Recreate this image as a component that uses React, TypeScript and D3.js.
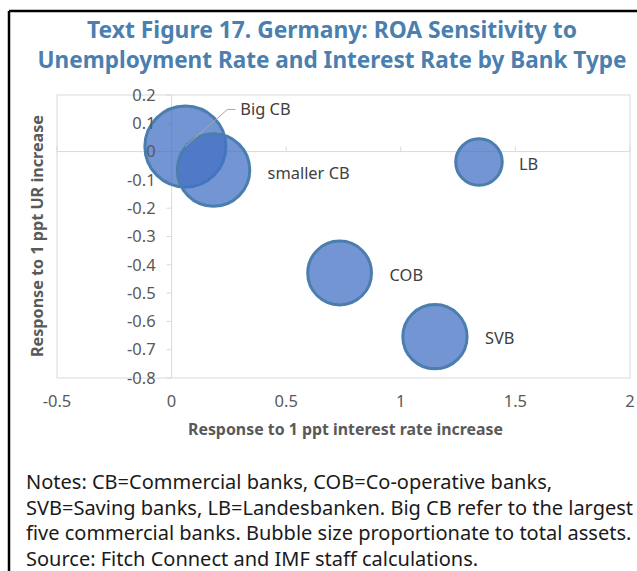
import React from "react";
import * as d3 from "d3";

const banks = ["Big CB", "smaller CB", "LB", "COB", "SVB"];
const rateResponse = [0.06, 0.183, 1.341, 0.733, 1.149];
const urResponse = [0.018, -0.065, -0.037, -0.429, -0.654];
const totalAssets = [1000, 800, 330, 620, 630];
const xTicks = [-0.5, 0, 0.5, 1, 1.5, 2];
const yTicks = [0.2, 0.1, 0, -0.1, -0.2, -0.3, -0.4, -0.5, -0.6, -0.7, -0.8];
const titleLines = [
  "Text Figure 17. Germany: ROA Sensitivity to",
  "Unemployment Rate and Interest Rate by Bank Type",
];
const noteLines = [
  "Notes: CB=Commercial banks, COB=Co-operative banks,",
  "SVB=Saving banks, LB=Landesbanken. Big CB refer to the largest",
  "five commercial banks. Bubble size proportionate to total assets.",
  "Source: Fitch Connect and IMF staff calculations.",
];

const W = 637;
const H = 571;
const FONT = "'Noto Sans', 'Open Sans', sans-serif";

export default function App() {
  const x = d3.scaleLinear().domain([-0.5, 2]).range([57, 630]);
  const y = d3.scaleLinear().domain([-0.8, 0.2]).range([378, 95]);
  const r = d3.scaleSqrt().domain([0, d3.max(totalAssets) as number]).range([0, 40.5]);
  const fmt = (v: number) => (v === 0 ? "0" : String(v));
  const x0 = x(0);
  const y0 = y(0);
  const labelDx = [0, 0, 40, 50, 50];
  const points = banks.map((b, i) => ({
    name: b,
    cx: x(rateResponse[i]),
    cy: y(urResponse[i]),
    r: r(totalAssets[i]),
  }));
  const big = points[0];
  const titleWidths = [490, 589];

  return (
    <svg
      width={W}
      height={H}
      style={{ position: "absolute", left: 0, top: 0, background: "#fff" }}
      fontFamily={FONT}
    >
      <rect x={0} y={0} width={W} height={H} fill="#fff" />
      {/* outer frame */}
      <line x1={9} y1={11} x2={W} y2={11} stroke="#000" strokeWidth={2.5} />
      <line x1={9} y1={11} x2={9} y2={H} stroke="#000" strokeWidth={2.5} />

      {titleLines.map((t, i) => (
        <text
          key={i}
          x={332}
          y={38 + i * 30.3}
          textAnchor="middle"
          fontSize={22.5}
          fontWeight="bold"
          fill="#4a7fb0"
          textLength={titleWidths[i]}
          lengthAdjust="spacingAndGlyphs"
        >
          {t}
        </text>
      ))}

      {/* plot area */}
      <rect
        x={x(-0.5)}
        y={y(0.2)}
        width={x(2) - x(-0.5)}
        height={y(-0.8) - y(0.2)}
        fill="none"
        stroke="#d9d9d9"
        strokeWidth={1}
      />
      {/* axes lines */}
      <line x1={x(-0.5)} x2={x(2)} y1={y0} y2={y0} stroke="#d9d9d9" />
      <line x1={x0} x2={x0} y1={y(0.2)} y2={y(-0.8)} stroke="#d9d9d9" />
      {xTicks.map((t) => (
        <line key={"xt" + t} x1={x(t)} x2={x(t)} y1={y0} y2={y0 - 5} stroke="#d9d9d9" />
      ))}
      {yTicks.map((t) => (
        <line key={"yt" + t} x1={x0 - 5} x2={x0} y1={y(t)} y2={y(t)} stroke="#d9d9d9" />
      ))}

      {/* bubbles */}
      {points.map((p) => (
        <circle
          key={p.name}
          cx={p.cx}
          cy={p.cy}
          r={p.r}
          fill="#4472c4"
          fillOpacity={0.75}
          stroke="#4a7eae"
          strokeWidth={3}
        />
      ))}

      {/* tick labels */}
      {yTicks.map((t) => (
        <text
          key={"yl" + t}
          x={x0 - 16}
          y={y(t)}
          dy="0.35em"
          textAnchor="end"
          fontSize={16.5}
          fill="#595959"
        >
          {fmt(t)}
        </text>
      ))}
      {xTicks.map((t) => (
        <text
          key={"xl" + t}
          x={x(t)}
          y={401}
          dy="0.35em"
          textAnchor="middle"
          fontSize={16.5}
          fill="#595959"
        >
          {fmt(t)}
        </text>
      ))}

      {/* data labels */}
      <polyline
        points={`${big.cx},${big.cy} ${big.cx + 42},${big.cy - 37} ${big.cx + 50},${big.cy - 37}`}
        fill="none"
        stroke="#a6a6a6"
        strokeWidth={1}
      />
      <text x={big.cx + 55} y={big.cy - 37} dy="0.35em" fontSize={16.4} fill="#404040">
        {points[0].name}
      </text>
      <text x={points[1].cx + 54} y={points[1].cy + 3} dy="0.35em" fontSize={16.4} fill="#404040">
        {points[1].name}
      </text>
      {points.slice(2).map((p, i) => (
        <text
          key={"dl" + p.name}
          x={p.cx + labelDx[i + 2]}
          y={p.cy + 2}
          dy="0.35em"
          fontSize={16.4}
          fill="#404040"
        >
          {p.name}
        </text>
      ))}

      {/* axis titles */}
      <text
        x={345.5}
        y={435}
        textAnchor="middle"
        fontSize={16}
        fontWeight="bold"
        fill="#595959"
        textLength={315}
        lengthAdjust="spacingAndGlyphs"
      >
        Response to 1 ppt interest rate increase
      </text>
      <text
        transform={`translate(37, 236) rotate(-90)`}
        dy="0.35em"
        textAnchor="middle"
        fontSize={16}
        fontWeight="bold"
        fill="#595959"
        textLength={242}
        lengthAdjust="spacingAndGlyphs"
      >
        Response to 1 ppt UR increase
      </text>

      {/* notes */}
      {noteLines.map((t, i) => (
        <text key={"n" + i} x={26} y={482 + i * 25.7} dy="0.35em" fontSize={20} fill="#1a1a1a">
          {t}
        </text>
      ))}
    </svg>
  );
}
